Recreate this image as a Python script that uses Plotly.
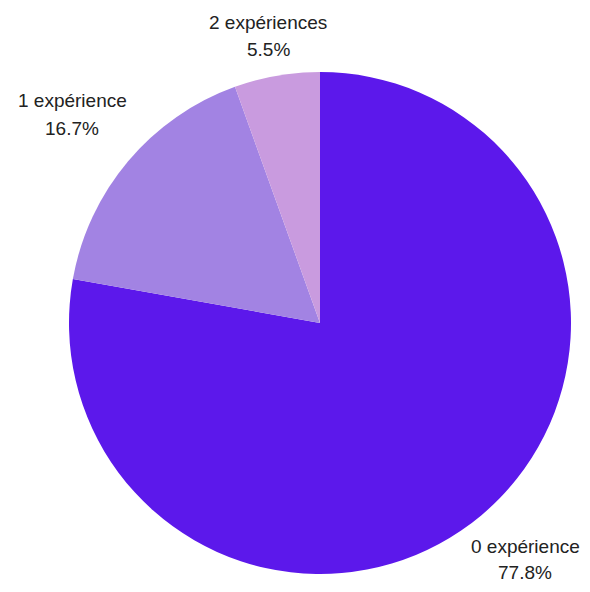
import plotly.graph_objects as go

categories = ["0 expérience", "1 expérience", "2 expériences"]
values = [77.8, 16.7, 5.5]
colors = ["#5C18EB", "#A283E3", "#C99BDF"]

OFF = 8  # default page body margin
W, H = 590 - 2 * OFF, 592 - 2 * OFF
# label positions (window pixels): name line y, percent line y
label_px = [(525, 546, 572), (72, 100, 128), (268, 22, 50)]


def px_x(x):
    return (x - OFF) / W


def px_y(y):
    return 1 - (y - OFF) / H


fig = go.Figure(go.Pie(
    labels=categories,
    values=values,
    sort=False,
    direction="clockwise",
    rotation=0,
    textinfo="none",
    hoverinfo="label+percent",
    marker=dict(colors=colors, line=dict(color="white", width=0)),
    domain=dict(x=[px_x(69), px_x(571)], y=[px_y(574), px_y(72)]),
    showlegend=False,
))

font = dict(family="Liberation Sans, Arial, sans-serif", size=19, color="#222222")
for cat, v, (px, py1, py2) in zip(categories, values, label_px):
    fig.add_annotation(
        x=px_x(px), y=px_y(py1), xref="paper", yref="paper",
        text=cat, showarrow=False, font=font, borderpad=0,
        xanchor="center", yanchor="middle",
    )
    fig.add_annotation(
        x=px_x(px), y=px_y(py2), xref="paper", yref="paper",
        text=f"{v:.1f}%", showarrow=False, font=font, borderpad=0,
        xanchor="center", yanchor="middle",
    )

fig.update_layout(
    width=W, height=H,
    margin=dict(l=0, r=0, t=0, b=0),
    paper_bgcolor="white",
    plot_bgcolor="white",
)
fig.write_html("out.html")
